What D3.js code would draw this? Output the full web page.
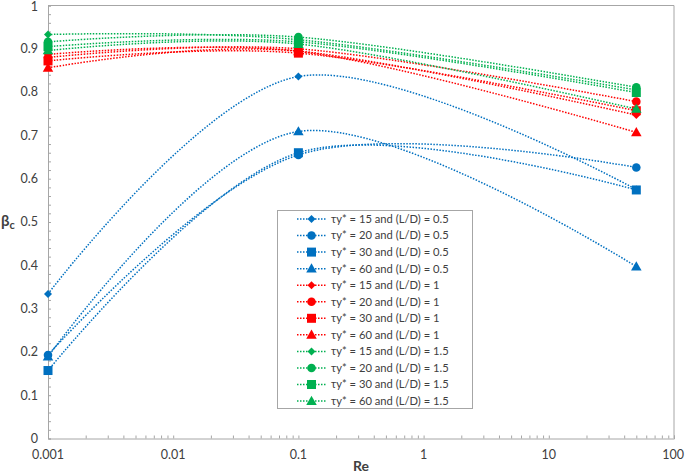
<!DOCTYPE html>
<html><head><meta charset="utf-8">
<script src="https://cdn.jsdelivr.net/npm/d3@7"></script>
<style>
html,body{margin:0;padding:0;background:#fff;}
svg{display:block;font-family:Lato,"Open Sans",sans-serif;}
</style></head>
<body><svg id="chart" width="685" height="476"></svg>
<script>
// ---- data ----
const reValues = [0.001, 0.1, 50];
const xTickLabels = ["0.001", "0.01", "0.1", "1", "10", "100"];
const yTickLabels = ["0", "0.1", "0.2", "0.3", "0.4", "0.5", "0.6", "0.7", "0.8", "0.9", "1"];
const tauValues = ["15", "20", "30", "60"];
const ldValues = ["0.5", "1", "1.5"];

const ld05_tau15 = [0.334, 0.836, 0.575];
const ld05_tau20 = [0.193, 0.655, 0.626];
const ld05_tau30 = [0.157, 0.660, 0.574];
const ld05_tau60 = [0.189, 0.709, 0.397];
const ld1_tau15 = [0.887, 0.895, 0.747];
const ld1_tau20 = [0.880, 0.900, 0.778];
const ld1_tau30 = [0.872, 0.890, 0.757];
const ld1_tau60 = [0.856, 0.894, 0.707];
const ld15_tau15 = [0.933, 0.921, 0.805];
const ld15_tau20 = [0.916, 0.927, 0.811];
const ld15_tau30 = [0.905, 0.916, 0.799];
const ld15_tau60 = [0.896, 0.911, 0.761];

const seriesValues = [
  [ld05_tau15, ld05_tau20, ld05_tau30, ld05_tau60],
  [ld1_tau15, ld1_tau20, ld1_tau30, ld1_tau60],
  [ld15_tau15, ld15_tau20, ld15_tau30, ld15_tau60]
];
const groupColors = ["#0070C0", "#FF0000", "#00B050"];
const markerTypes = ["diamond", "circle", "square", "triangle"];

// ---- layout ----
const svg = d3.select("#chart");
const pL = 48, pR = 674, pT = 5.5, pB = 438.5;
const x = d3.scaleLog().domain([0.001, 100]).range([pL, pR]);
const y = d3.scaleLinear().domain([0, 1]).range([pB, pT]);
const axisColor = "#a6a6a6";
const textColor = "#404040";

// plot border top & right
svg.append("line").attr("x1", pL).attr("x2", pR).attr("y1", pT).attr("y2", pT).attr("stroke", axisColor);
svg.append("line").attr("x1", pR).attr("x2", pR).attr("y1", pT).attr("y2", pB).attr("stroke", axisColor);

// y axis
const yMinor = d3.range(0, 51).map(i => i * 0.02);
const yAxis = d3.axisLeft(y).tickValues(yMinor).tickSize(-3).tickFormat("");
const gy = svg.append("g").attr("transform", `translate(${pL},0)`).call(yAxis);
gy.select(".domain").attr("stroke", axisColor);
gy.selectAll(".tick line").attr("stroke", axisColor);
svg.append("g").selectAll("text").data(yTickLabels).join("text")
  .attr("x", 38).attr("y", (d, i) => y(i / 10) + (i === 10 ? 1.5 : 0)).attr("dy", "0.35em")
  .attr("text-anchor", "end").attr("fill", textColor).attr("font-size", 12.5)
  .text(d => d);

// x axis
const xMinor = [];
for (let e = -3; e < 2; e++) for (let m = 1; m < 10; m++) xMinor.push(m * Math.pow(10, e));
xMinor.push(100);
const xAxis = d3.axisBottom(x).tickValues(xMinor).tickSize(-3).tickFormat("");
const gx = svg.append("g").attr("transform", `translate(0,${pB})`).call(xAxis);
gx.select(".domain").attr("stroke", axisColor);
gx.selectAll(".tick line").attr("stroke", axisColor);
svg.append("g").selectAll("text").data(xTickLabels).join("text")
  .attr("x", (d, i) => i === 5 ? 684 : x(Math.pow(10, i - 3)))
  .attr("y", 459)
  .attr("text-anchor", (d, i) => i === 5 ? "end" : "middle")
  .attr("fill", textColor).attr("font-size", 12.5)
  .text(d => d);

// axis titles
svg.append("text").attr("x", (pL + pR) / 2).attr("y", 471).attr("text-anchor", "middle")
  .attr("font-weight", "bold").attr("font-size", 14).attr("fill", textColor).text("Re");
const yt = svg.append("text").attr("x", 1).attr("y", 226).attr("font-weight", "bold")
  .attr("font-size", 15).attr("fill", textColor);
yt.append("tspan").text("β");
yt.append("tspan").attr("font-size", 11).attr("dy", 3).text("c");

// marker drawing
function drawMarker(g, type, cx, cy, color) {
  if (type === "circle") {
    g.append("circle").attr("cx", cx).attr("cy", cy).attr("r", 4.3).attr("fill", color);
  } else if (type === "square") {
    g.append("rect").attr("x", cx - 4.5).attr("y", cy - 4.5).attr("width", 9).attr("height", 9).attr("fill", color);
  } else if (type === "triangle") {
    const s = d3.symbol().type(d3.symbolTriangle).size(48);
    g.append("path").attr("d", s()).attr("transform", `translate(${cx},${cy + 0.8})`).attr("fill", color);
  } else {
    g.append("path").attr("d", `M${cx},${cy - 4}L${cx + 4},${cy}L${cx},${cy + 4}L${cx - 4},${cy}Z`).attr("fill", color);
  }
}

const line = d3.line().x(d => x(d[0])).y(d => y(d[1])).curve(d3.curveCardinal.tension(0));
const plot = svg.append("g");
seriesValues.forEach((group, gi) => {
  group.forEach((vals, si) => {
    const pts = reValues.map((r, k) => [r, vals[k]]);
    const g = plot.append("g");
    g.append("path").attr("d", line(pts)).attr("fill", "none")
      .attr("stroke", groupColors[gi]).attr("stroke-width", 1.5).attr("stroke-dasharray", "1.5,1.5");
    pts.forEach(p => drawMarker(g, markerTypes[si], x(p[0]), y(p[1]), groupColors[gi]));
  });
});

// legend
const lg = svg.append("g");
lg.append("rect").attr("x", 277.5).attr("y", 210.5).attr("width", 195).attr("height", 198)
  .attr("fill", "#fff").attr("stroke", axisColor);
let idx = 0;
ldValues.forEach((ld, gi) => {
  tauValues.forEach((tau, si) => {
    const cy = 219 + idx * 16.55;
    const g = lg.append("g");
    g.append("line").attr("x1", 297).attr("x2", 326).attr("y1", cy).attr("y2", cy)
      .attr("stroke", groupColors[gi]).attr("stroke-width", 1.5).attr("stroke-dasharray", "1.5,1.5");
    drawMarker(g, markerTypes[si], 311.5, cy, groupColors[gi]);
    g.append("text").attr("x", 331).attr("y", cy).attr("dy", "0.35em")
      .attr("font-size", 11.2).attr("fill", textColor)
      .text(`τy* = ${tau} and (L/D) = ${ld}`);
    idx++;
  });
});
</script></body></html>
